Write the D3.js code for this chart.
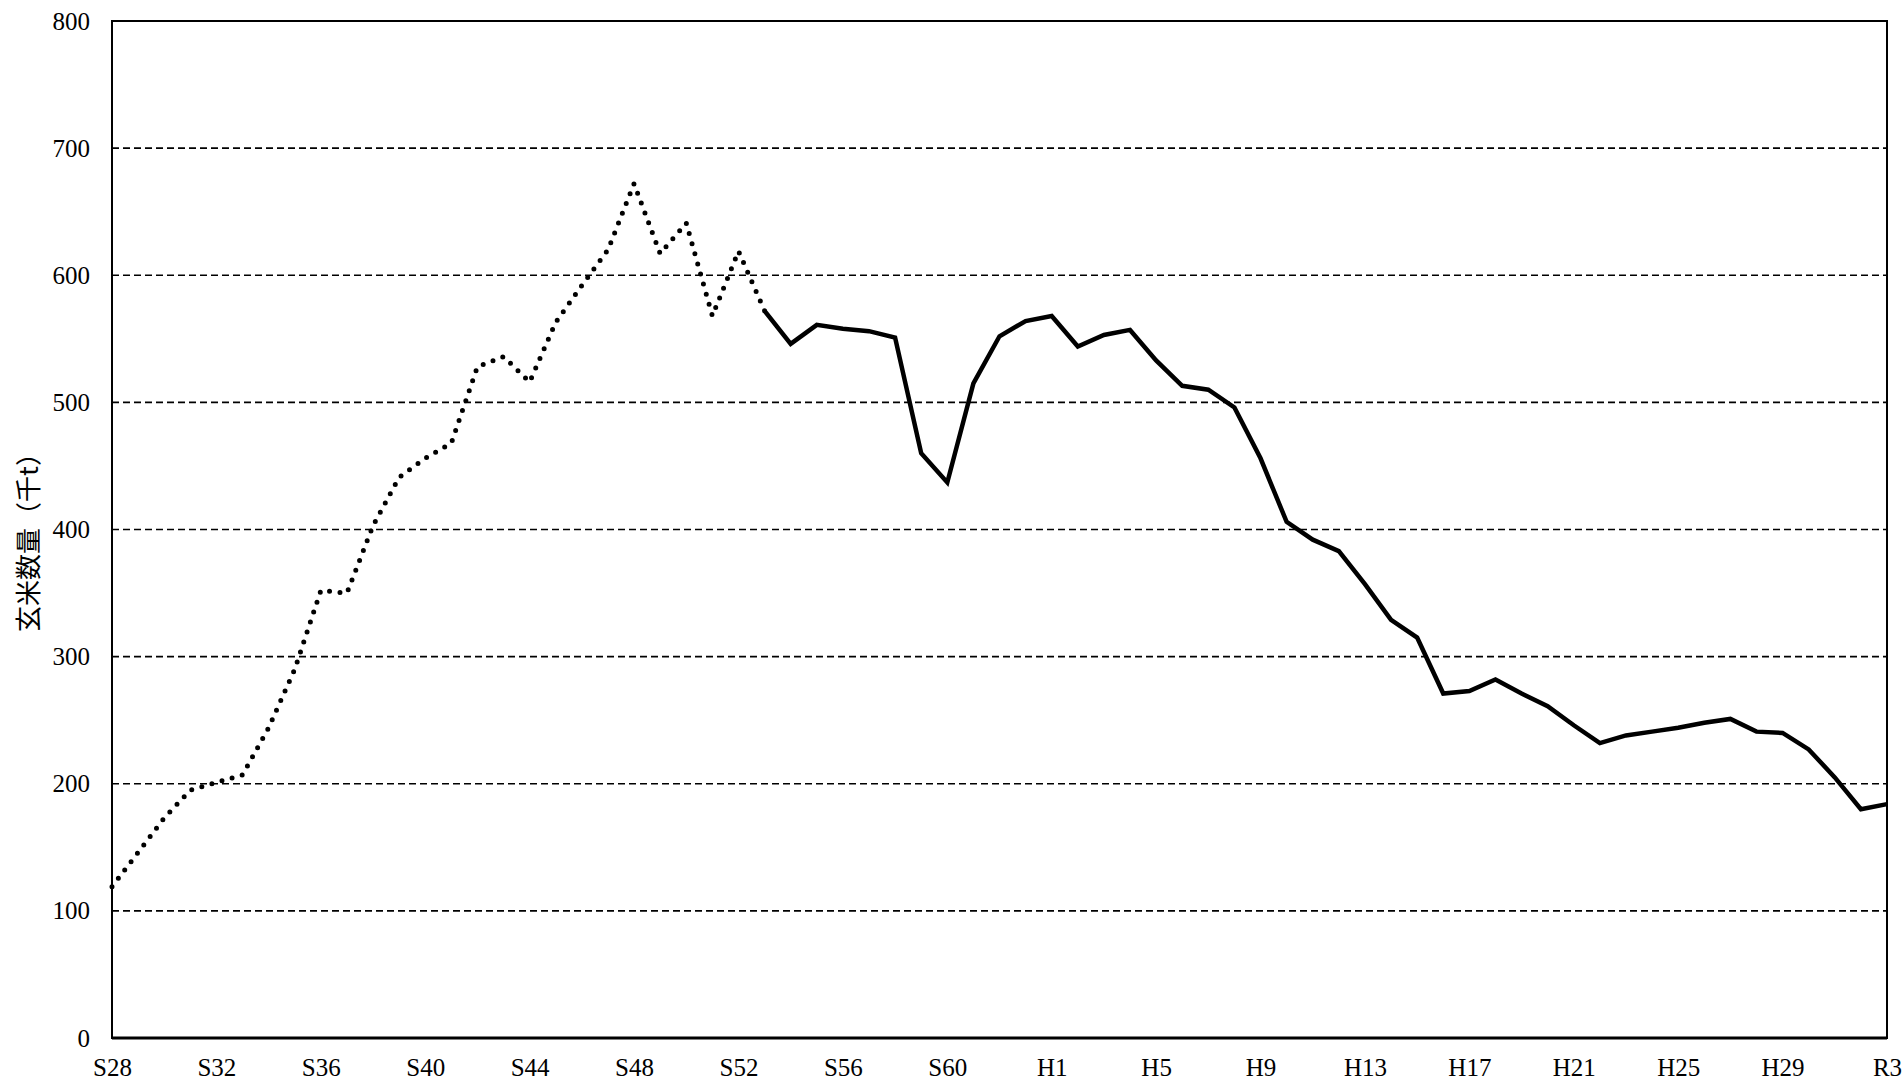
<!DOCTYPE html>
<html>
<head>
<meta charset="utf-8">
<script src="https://cdn.jsdelivr.net/npm/d3@7"></script>
<style>
  html, body { margin: 0; padding: 0; background: #fff; }
  svg { display: block; }
</style>
</head>
<body>
<div id="chart"></div>
<script>
// 玄米数量 (千t), 1953 (S28) .. 2021 (R3)
const startYear = 1953
const solidFrom = 1978 // S53 onward drawn as solid line
const values = [
  119, 146, 173, 195, 201, 207, 244, 290, 352, 350,   // 1953-1962
  403, 441, 456, 468, 528, 536, 516, 563, 592, 620,   // 1963-1972
  672, 617, 641, 568, 619, 572, 546, 561, 558, 556,   // 1973-1982
  551, 460, 437, 515, 552, 564, 568, 544, 553, 557,   // 1983-1992
  533, 513, 510, 496, 456, 406, 392, 383, 357, 329,   // 1993-2002
  315, 271, 273, 282, 271, 261, 246, 232, 238, 241,   // 2003-2012
  244, 248, 251, 241, 240, 227, 205, 180, 184         // 2013-2021
]
const tickYears = [1953, 1957, 1961, 1965, 1969, 1973, 1977, 1981, 1985, 1989, 1993, 1997, 2001, 2005, 2009, 2013, 2017, 2021]
const tickLabels = ['S28', 'S32', 'S36', 'S40', 'S44', 'S48', 'S52', 'S56', 'S60', 'H1', 'H5', 'H9', 'H13', 'H17', 'H21', 'H25', 'H29', 'R3']
const yTicks = [0, 100, 200, 300, 400, 500, 600, 700, 800]
const yTitle = '玄米数量（千t）'

const W = 1903, H = 1080
const margin = { top: 21, right: 16, bottom: 42, left: 112 }
const w = W - margin.left - margin.right
const h = H - margin.top - margin.bottom

const data = values.map((v, i) => ({ year: startYear + i, value: v }))

const svg = d3.select('#chart').append('svg').attr('width', W).attr('height', H)
const g = svg.append('g').attr('transform', `translate(${margin.left},${margin.top})`)

const x = d3.scaleLinear().domain([startYear, startYear + values.length - 1]).range([0, w])
const y = d3.scaleLinear().domain([0, 800]).range([h, 0])

const serif = '"Liberation Serif", "DejaVu Serif", serif'

// dashed grid lines
g.selectAll('.grid')
  .data(yTicks.filter(t => t > 0 && t < 800))
  .join('line')
  .attr('class', 'grid')
  .attr('x1', 0).attr('x2', w)
  .attr('y1', d => y(d)).attr('y2', d => y(d))
  .attr('stroke', '#000').attr('stroke-width', 1.7)
  .attr('stroke-dasharray', '7,4')

// y axis labels
const yAxis = g.append('g').call(d3.axisLeft(y).tickValues(yTicks).tickSize(0).tickPadding(22))
yAxis.select('.domain').remove()
yAxis.selectAll('text').attr('font-family', serif).attr('font-size', 25).attr('fill', '#000')

// x axis labels
const xAxis = g.append('g').attr('transform', `translate(0,${h})`)
  .call(d3.axisBottom(x).tickValues(tickYears).tickFormat((d, i) => tickLabels[i]).tickSize(0).tickPadding(20))
xAxis.select('.domain').remove()
xAxis.selectAll('text').attr('font-family', serif).attr('font-size', 25).attr('fill', '#000')

// frame
g.append('rect').attr('x', 0).attr('y', 0).attr('width', w).attr('height', h)
  .attr('fill', 'none').attr('stroke', '#000').attr('stroke-width', 2)
g.append('line').attr('x1', 0).attr('x2', w).attr('y1', h).attr('y2', h)
  .attr('stroke', '#000').attr('stroke-width', 3)

const lineGen = d3.line().x(d => x(d.year)).y(d => y(d.value))

// dotted part (up to S53)
g.append('path')
  .datum(data.filter(d => d.year <= solidFrom))
  .attr('fill', 'none')
  .attr('stroke', '#000')
  .attr('stroke-width', 5)
  .attr('stroke-linecap', 'round')
  .attr('stroke-dasharray', '0,10.5')
  .attr('d', lineGen)

// solid part
g.append('path')
  .datum(data.filter(d => d.year >= solidFrom))
  .attr('fill', 'none')
  .attr('stroke', '#000')
  .attr('stroke-width', 4.5)
  .attr('stroke-linejoin', 'miter')
  .attr('d', lineGen)

// y title
svg.append('text')
  .attr('transform', `translate(38,536) rotate(-90)`)
  .attr('text-anchor', 'middle')
  .attr('font-family', '"Noto Sans CJK JP", sans-serif')
  .attr('font-size', 26)
  .attr('fill', '#000')
  .text(yTitle)
</script>
</body>
</html>
